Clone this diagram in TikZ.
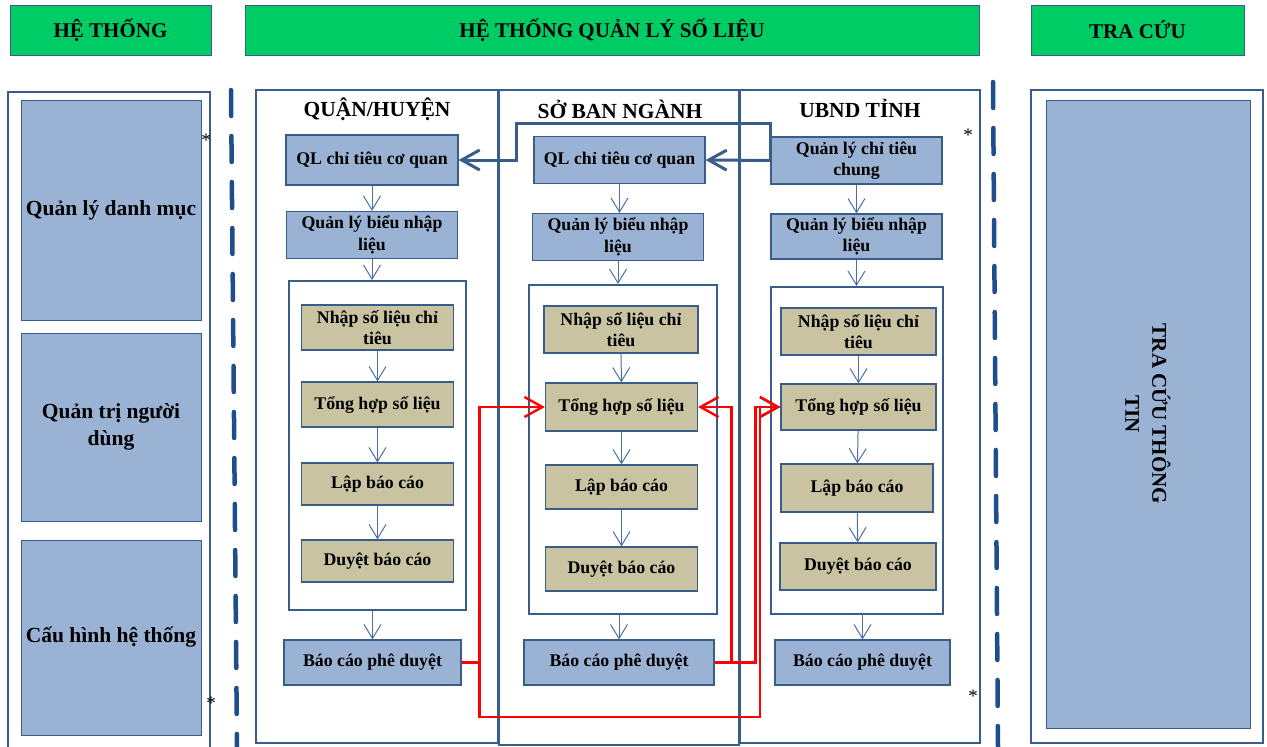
\documentclass[tikz,border=0pt]{standalone}
\usepackage{fontspec}
\setmainfont{Liberation Serif}
\usetikzlibrary{arrows.meta}
\definecolor{hdrgreen}{HTML}{00CC66}
\definecolor{boxblue}{HTML}{9AB3D4}
\definecolor{boxtan}{HTML}{C9C3A1}
\definecolor{edgeblue}{HTML}{385D8A}
\definecolor{linkblue}{HTML}{4A6FA5}
\definecolor{sepblue}{HTML}{1F4E8C}

\begin{document}
\begin{tikzpicture}[x=1pt,y=-1pt] %% tikz nodes
	\tikzstyle{header}=[rectangle,draw=edgeblue,fill=hdrgreen,thin,minimum height=50pt,inner sep=2pt,font=\fontsize{21}{24}\selectfont\bfseries];
	\tikzstyle{title}=[inner sep=1pt,font=\fontsize{21.5}{24}\selectfont\bfseries];
	\tikzstyle{sidebox}=[rectangle,draw=edgeblue,fill=boxblue,line width=1pt,minimum width=180pt,align=center,font=\fontsize{21.5}{27}\selectfont\bfseries];
	\tikzstyle{bluebox}=[rectangle,draw=edgeblue,fill=boxblue,line width=1.2pt,minimum width=171pt,minimum height=47pt,inner sep=1pt,align=center,font=\fontsize{17.8}{21.5}\selectfont\bfseries];
	\tikzstyle{tanbox}=[rectangle,draw=edgeblue,fill=boxtan,line width=1.2pt,minimum width=152pt,minimum height=45pt,inner sep=1pt,align=center,font=\fontsize{17.8}{21.5}\selectfont\bfseries];
	\tikzstyle{frame}=[rectangle,draw=edgeblue,line width=2pt,minimum height=329pt];
	\tikzstyle{panel}=[rectangle,draw=edgeblue,line width=1.2pt,minimum height=653pt];
	\tikzstyle{flow}=[draw=linkblue,line width=1pt,-{Straight Barb[length=14pt,width=17pt]}];
	\tikzstyle{feed}=[draw=edgeblue,line width=3pt,-{Straight Barb[length=18pt,width=20pt]}];
	\tikzstyle{back}=[draw=red,line width=2.4pt,-{Straight Barb[length=18pt,width=20pt]}];
	\tikzstyle{sep}=[draw=sepblue,line width=4.5pt,dash pattern=on 26pt off 20pt,line cap=round];
	\tikzstyle{star}=[inner sep=0pt,font=\fontsize{19}{19}\selectfont];
	\useasboundingbox (0,0) rectangle (1267,747);

	% headers
	\node[header,minimum width=201pt] (H1) at (110.5,30) {HỆ THỐNG};
	\node[header,minimum width=734pt] (H2) at (612,30) {HỆ THỐNG QUẢN LÝ SỐ LIỆU};
	\node[header,minimum width=213pt] (H3) at (1137.5,30) {TRA CỨU};

	% left column
	\draw[edgeblue,line width=1.2pt] (8,747) |- (210,92) -- (210,747);
	\node[sidebox,minimum height=220pt] (M1) at (111,210) {Quản lý danh mục};
	\node[sidebox,minimum height=188pt] (M2) at (111,427) {Quản trị người\\dùng};
	\node[sidebox,minimum height=195pt] (M3) at (111,637.5) {Cấu hình hệ thống};
	\node[star] (S1) at (206,140) {*};
	\node[star] (S2) at (211,703) {*};

	\draw[sep] (231,90) -- (237,747);
	\draw[sep] (993,82) -- (998,747);

	% panels
	\node[panel,minimum width=242pt] (P1) at (377,416.5) {};
	\node[panel,minimum width=240pt,minimum height=655pt] (P2) at (619,417.5) {};
	\node[panel,minimum width=240pt] (P3) at (860,416.5) {};
	\node[title] (C1) at (377,109) {QUẬN/HUYỆN};
	\node[title] (C2) at (620,109) {SỞ BAN NGÀNH};
	\node[title] (C3) at (860,108) {UBND TỈNH};
	\node[star] (S3) at (968,135) {*};
	\node[star] (S4) at (973,696) {*};

	% quan/huyen
	\node[bluebox,minimum width=172pt,minimum height=50pt] (QL1) at (372,160) {QL chỉ tiêu cơ quan};
	\node[bluebox] (BL1) at (372,235) {Quản lý biểu nhập\\liệu};
	\node[frame,minimum width=177pt] (F1) at (377.5,445.5) {};
	\node[tanbox] (N1) at (377.5,327.5) {Nhập số liệu chỉ\\tiêu};
	\node[tanbox] (T1) at (377.5,404.5) {Tổng hợp số liệu};
	\node[tanbox,minimum height=42pt] (L1) at (377.5,484) {Lập báo cáo};
	\node[tanbox,minimum height=42pt] (D1) at (377.5,561) {Duyệt báo cáo};
	\node[bluebox,minimum width=177pt,minimum height=45pt] (BC1) at (372.5,662.5) {Báo cáo phê duyệt};

	% so ban nganh
	\node[bluebox] (QL2) at (619.5,160) {QL chỉ tiêu cơ quan};
	\node[bluebox] (BL2) at (618,237) {Quản lý biểu nhập\\liệu};
	\node[frame,minimum width=188pt] (F2) at (623,449.5) {};
	\node[tanbox,minimum width=154pt,minimum height=47pt] (N2) at (621,329.5) {Nhập số liệu chỉ\\tiêu};
	\node[tanbox,minimum height=48pt] (T2) at (621.5,407) {Tổng hợp số liệu};
	\node[tanbox,minimum height=44pt] (L2) at (621.5,487) {Lập báo cáo};
	\node[tanbox,minimum height=44pt] (D2) at (621.5,569) {Duyệt báo cáo};
	\node[bluebox,minimum width=190pt,minimum height=45pt] (BC2) at (619,662.5) {Báo cáo phê duyệt};

	% ubnd tinh
	\node[bluebox] (QC3) at (856.5,160.5) {Quản lý chỉ tiêu\\chung};
	\node[bluebox,minimum height=45pt] (BL3) at (856.5,236.5) {Quản lý biểu nhập\\liệu};
	\node[frame,minimum width=172pt,minimum height=327pt] (F3) at (857,450.5) {};
	\node[tanbox,minimum width=155pt,minimum height=47pt] (N3) at (858.5,331.5) {Nhập số liệu chỉ\\tiêu};
	\node[tanbox,minimum width=155pt,minimum height=46pt] (T3) at (858.5,407) {Tổng hợp số liệu};
	\node[tanbox,minimum height=48pt] (L3) at (857,488) {Lập báo cáo};
	\node[tanbox,minimum width=156pt,minimum height=47pt] (D3) at (858,566.5) {Duyệt báo cáo};
	\node[bluebox,minimum width=175pt,minimum height=45pt] (BC3) at (862.5,662.5) {Báo cáo phê duyệt};

	% tra cuu
	\node[panel,minimum width=232pt] (R0) at (1147,416.5) {};
	\node[sidebox,rotate=-90,minimum width=628pt,minimum height=204pt,font=\fontsize{21}{27}\selectfont\bfseries] (R1) at (1148,414) {TRA CỨU THÔNG\\TIN};

	% flows
	\foreach \c in {1,2,3} {
		\draw[flow] (BL\c.south) -- (BL\c.south |- F\c.north);
		\draw[flow] (N\c) -- (T\c);
		\draw[flow] (T\c) -- (L\c);
		\draw[flow] (L\c) -- (D\c);
		\draw[flow] (BC\c.north |- F\c.south) -- (BC\c.north);
	}
	\draw[flow] (QL1) -- (BL1);
	\draw[flow] (QL2.south) -- (QL2.south |- BL2.north);
	\draw[flow] (QC3) -- (BL3);

	\coordinate (K) at (516,123);
	\draw[feed] (QC3.west) -- (QL2.east);
	\draw[feed] (QC3.west) |- (K) |- (QL1.east);

	\coordinate (Q) at (760,717);
	\draw[back] (BC1.east) -- ++(18,0) |- (T2.west);
	\draw[back] (BC1.east) -- ++(18,0) |- (Q) |- (T3.west);
	\draw[back] (BC2.east) -- ++(17,0) |- (T2.east);
	\draw[back] (BC2.east) -- ++(41,0) |- (T3.west);
\end{tikzpicture}
\end{document}
